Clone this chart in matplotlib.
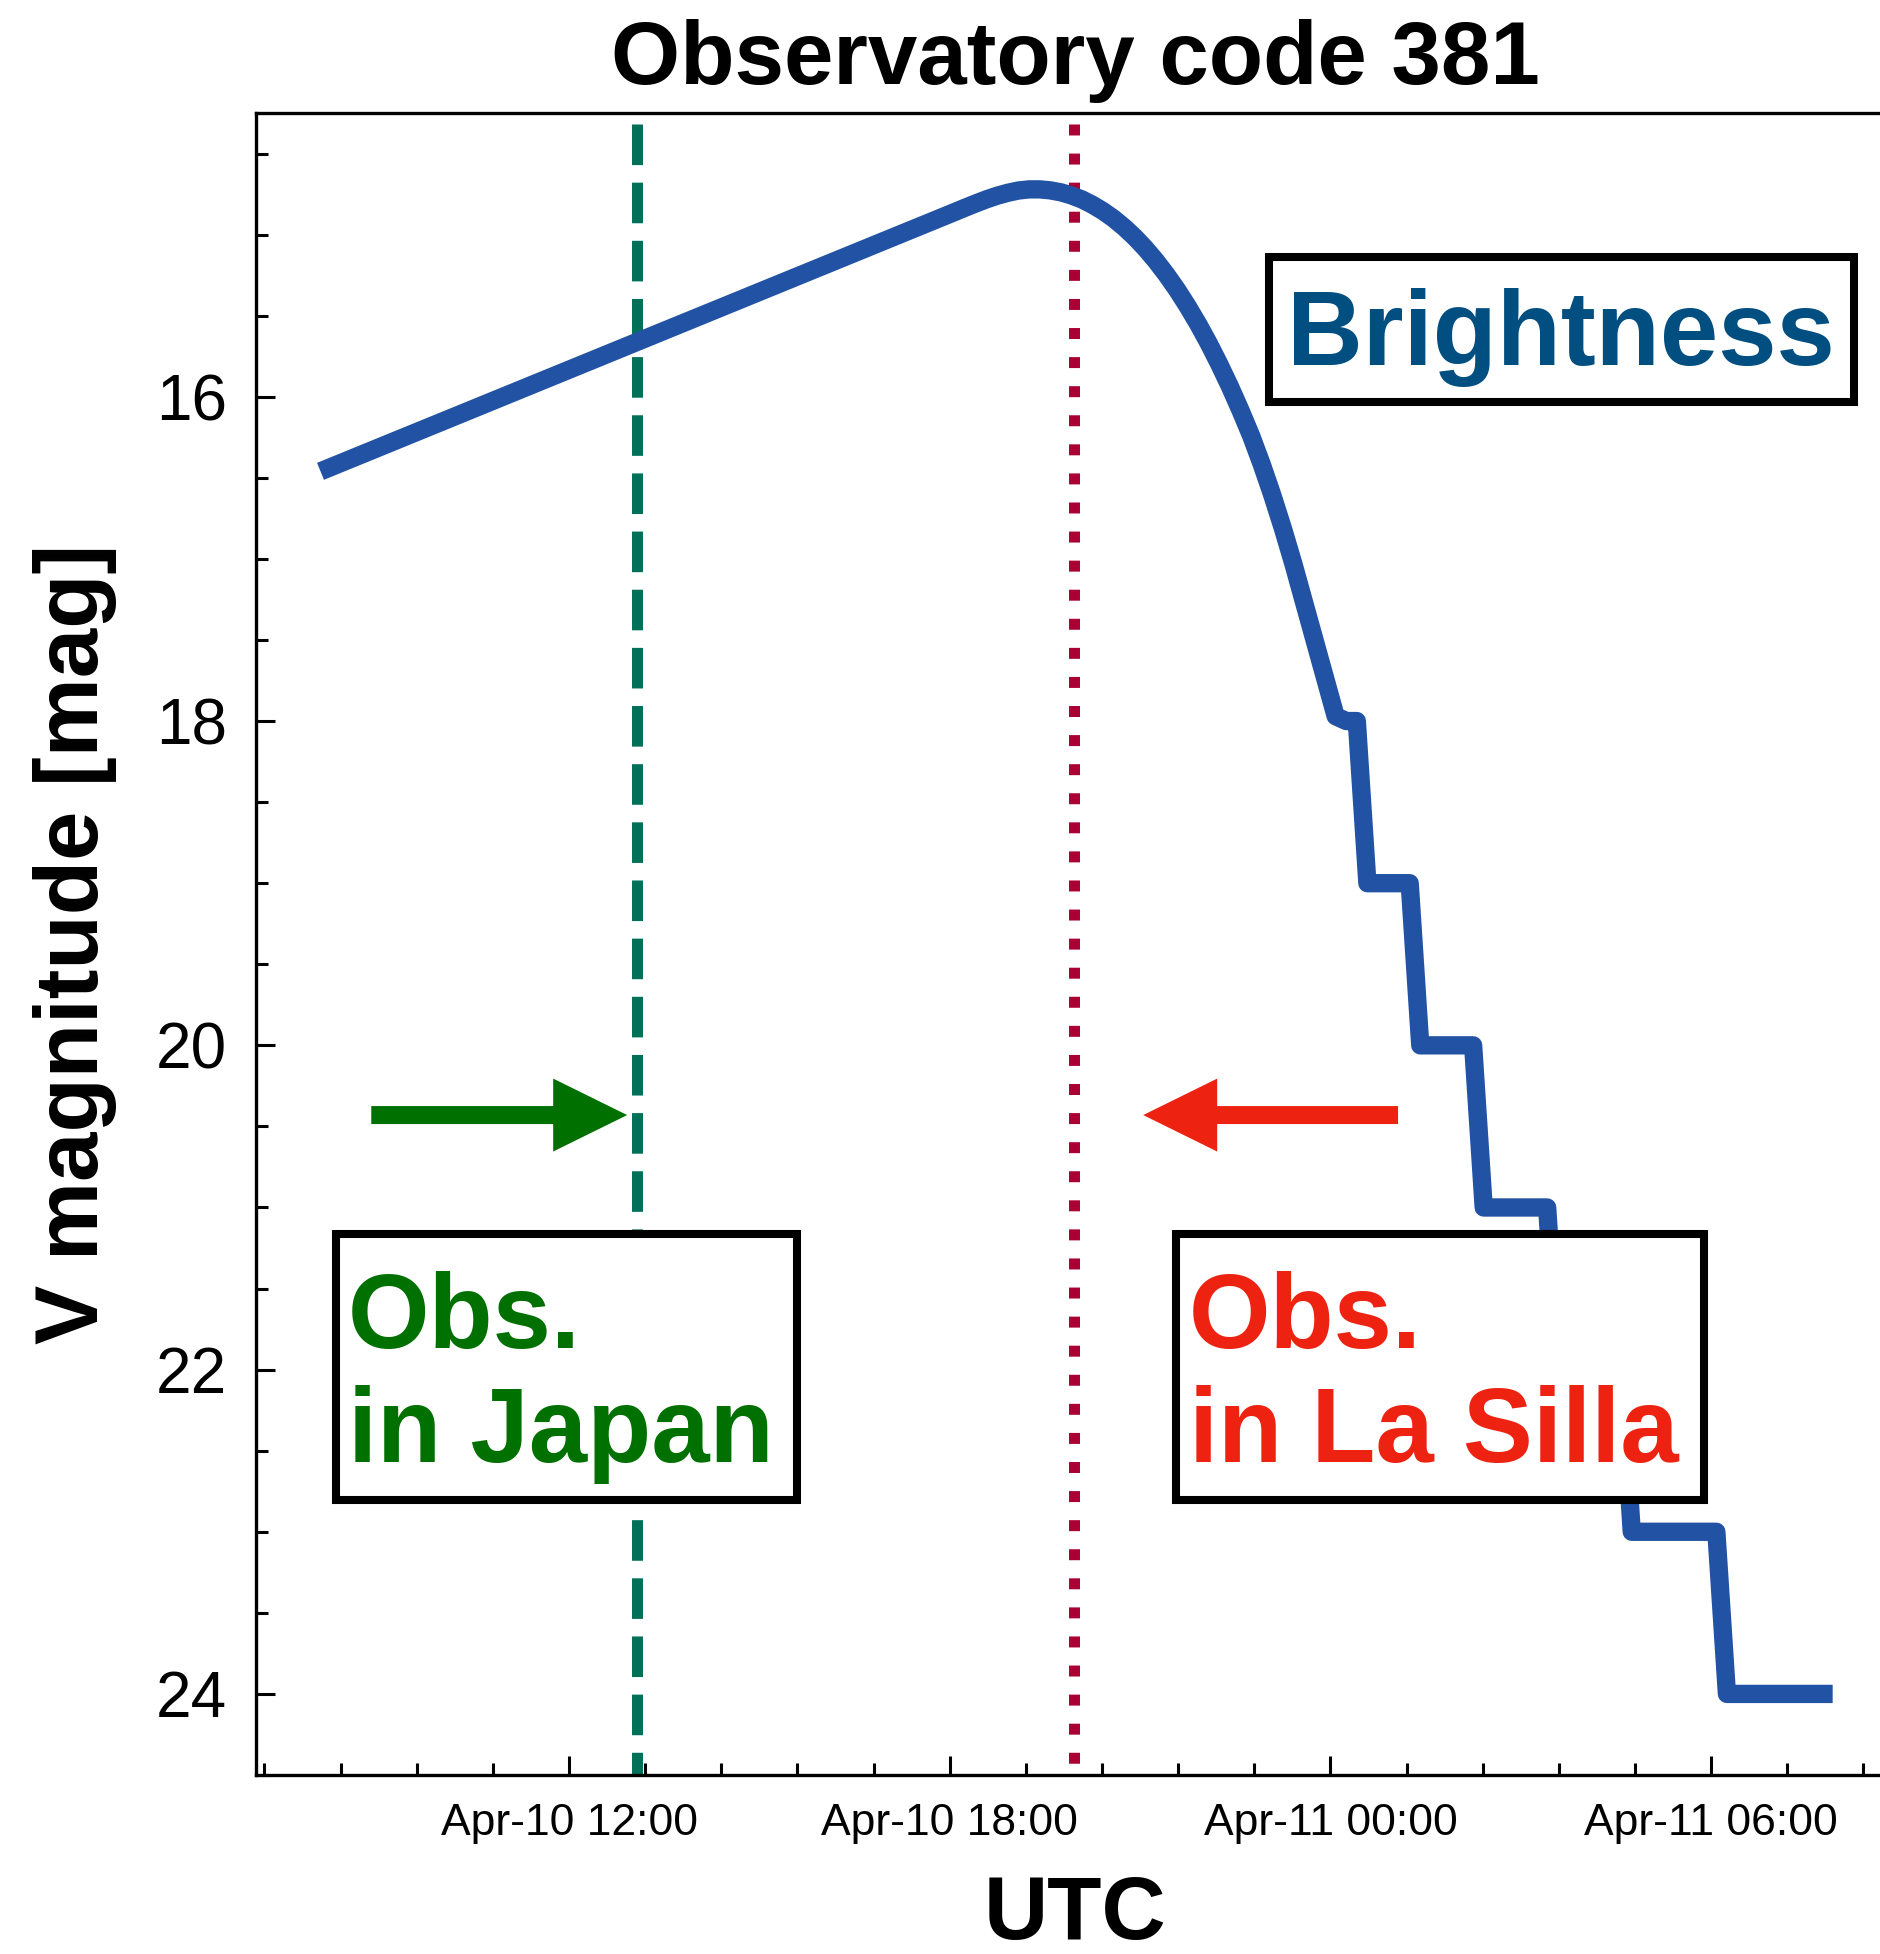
import datetime as dt

import matplotlib
matplotlib.use('Agg')
import matplotlib.pyplot as plt
import matplotlib.dates as mdates
from matplotlib.patches import Rectangle, FancyArrow
from matplotlib.ticker import MultipleLocator, AutoMinorLocator

plt.rcParams['font.family'] = ['Liberation Sans', 'DejaVu Sans']

YEAR = 2018

# predicted V magnitude seen from observatory code 381 (UTC)
times = ['04-10 08:05', '04-10 08:35', '04-10 09:05', '04-10 09:35',
         '04-10 10:05', '04-10 10:35', '04-10 11:05', '04-10 11:35',
         '04-10 12:05', '04-10 12:35', '04-10 13:05', '04-10 13:35',
         '04-10 14:05', '04-10 14:35', '04-10 15:05', '04-10 15:35',
         '04-10 16:05', '04-10 16:35', '04-10 17:05', '04-10 17:35',
         '04-10 18:05', '04-10 18:15', '04-10 18:25', '04-10 18:35',
         '04-10 18:45', '04-10 18:55', '04-10 19:05', '04-10 19:15',
         '04-10 19:25', '04-10 19:35', '04-10 19:45', '04-10 19:55',
         '04-10 20:05', '04-10 20:15', '04-10 20:25', '04-10 20:35',
         '04-10 20:45', '04-10 20:55', '04-10 21:05', '04-10 21:15',
         '04-10 21:25', '04-10 21:35', '04-10 21:45', '04-10 21:55',
         '04-10 22:05', '04-10 22:15', '04-10 22:25', '04-10 22:35',
         '04-10 22:45', '04-10 22:55', '04-10 23:05', '04-10 23:15',
         '04-10 23:25', '04-10 23:35', '04-10 23:45', '04-10 23:55',
         '04-11 00:05', '04-11 00:15', '04-11 00:25', '04-11 00:35',
         '04-11 01:15', '04-11 01:25', '04-11 02:15', '04-11 02:25',
         '04-11 03:25', '04-11 03:35', '04-11 04:35', '04-11 04:45',
         '04-11 06:05', '04-11 06:15', '04-11 07:55']
v_mag = [16.46, 16.38, 16.30, 16.22,
         16.14, 16.06, 15.98, 15.90,
         15.82, 15.74, 15.66, 15.58,
         15.50, 15.42, 15.34, 15.26,
         15.18, 15.10, 15.02, 14.94,
         14.860, 14.833, 14.807, 14.782,
         14.760, 14.742, 14.728, 14.721,
         14.721, 14.727, 14.739, 14.758,
         14.783, 14.816, 14.855, 14.901,
         14.955, 15.016, 15.085, 15.162,
         15.247, 15.340, 15.442, 15.552,
         15.671, 15.800, 15.937, 16.084,
         16.240, 16.415, 16.605, 16.810,
         17.030, 17.265, 17.500, 17.735,
         17.970, 18.0, 18.0, 19.0,
         19.0, 20.0, 20.0, 21.0,
         21.0, 22.0, 22.0, 23.0,
         23.0, 24.0, 24.0]

# observing windows
japan_end = '04-10 13:04'
lasilla_start = '04-10 19:58'
line_top = 14.32
japan_arrow = ('04-10 08:53', '04-10 12:55')
lasilla_arrow = ('04-11 01:04', '04-10 21:03')
arrow_mag = 20.43

x_range = ('04-10 07:04', '04-11 08:53')
y_range = (24.5, 14.25)


def to_date(s):
    return dt.datetime.strptime(f'{YEAR}-{s}', '%Y-%m-%d %H:%M')


t = [to_date(s) for s in times]

W, H = 1880, 1954
fig = plt.figure(figsize=(W / 100, H / 100), dpi=100)
ax = fig.add_axes([256 / W, 1 - 1775 / H, (1894 - 256) / W, (1775 - 113) / H])


def fig_rect(x0, y0, x1, y1, **kw):
    # box given in figure pixels (top-left origin)
    r = Rectangle((x0 / W, 1 - y1 / H), (x1 - x0) / W, (y1 - y0) / H,
                  transform=fig.transFigure, **kw)
    ax.add_patch(r)


def fig_text(x, y, s, **kw):
    ax.text(x / W, 1 - y / H, s, transform=fig.transFigure, **kw)


ax.plot(t, v_mag, color='#2152A3', lw=13.2, solid_joinstyle='round',
        solid_capstyle='butt', zorder=3)

ax.plot([to_date(japan_end)] * 2, [line_top, y_range[0]], ls='--',
        color='#007058', lw=7.9, zorder=2)
ax.plot([to_date(lasilla_start)] * 2, [line_top, y_range[0]], ls=':',
        color='#AA0033', lw=7.9, zorder=2)

# arrows towards the window edges
head_len = 1.166 / 24
for (a, b), col in [(japan_arrow, '#007000'), (lasilla_arrow, '#EE2211')]:
    x0 = mdates.date2num(to_date(a))
    x1 = mdates.date2num(to_date(b))
    ax.add_patch(FancyArrow(x0, arrow_mag, x1 - x0, 0, width=0.111,
                            head_width=0.45, head_length=head_len,
                            length_includes_head=True, color=col, lw=0,
                            zorder=4))

box_kw = dict(facecolor='white', edgecolor='black', lw=5.8, zorder=5)
fig_rect(1269, 257, 1854, 402, **box_kw)
fig_rect(336, 1234, 797, 1500, **box_kw)
fig_rect(1176, 1234, 1704, 1500, **box_kw)

# va='baseline' on multi-line text pins the last line
fig_text(1561, 365, 'Brightness', color='#004F80', fontsize=75.5,
         fontweight='bold', ha='center', va='baseline', zorder=6)
fig_text(348, 1462, 'Obs.\nin Japan', color='#007000', fontsize=75.5,
         fontweight='bold', ha='left', va='baseline', zorder=6)
fig_text(1189, 1462, 'Obs.\nin La Silla', color='#EE2211', fontsize=75.5,
         fontweight='bold', ha='left', va='baseline', zorder=6)

ax.set_xlim(to_date(x_range[0]), to_date(x_range[1]))
ax.set_ylim(*y_range)

ax.xaxis.set_major_locator(mdates.HourLocator(byhour=[0, 6, 12, 18]))
ax.xaxis.set_minor_locator(AutoMinorLocator(5))
ax.xaxis.set_major_formatter(mdates.DateFormatter('%b-%d %H:%M'))
ax.yaxis.set_major_locator(MultipleLocator(2))
ax.yaxis.set_minor_locator(MultipleLocator(0.5))

ax.tick_params(which='both', direction='in', width=2.2, top=False,
               right=False)
ax.tick_params(which='major', length=14)
ax.tick_params(which='minor', length=8.5)
ax.tick_params(axis='x', labelsize=32, pad=20)
ax.tick_params(axis='y', labelsize=46, pad=21)
for sp in ax.spines.values():
    sp.set_linewidth(2.4)

ax.set_title('Observatory code 381', fontsize=64, fontweight='bold', pad=21)
ax.set_xlabel('UTC', fontsize=64, fontweight='bold', labelpad=22)
ax.set_ylabel('V magnitude [mag]', fontsize=64, fontweight='bold',
              labelpad=28)

fig.savefig('out.png', dpi=100)
